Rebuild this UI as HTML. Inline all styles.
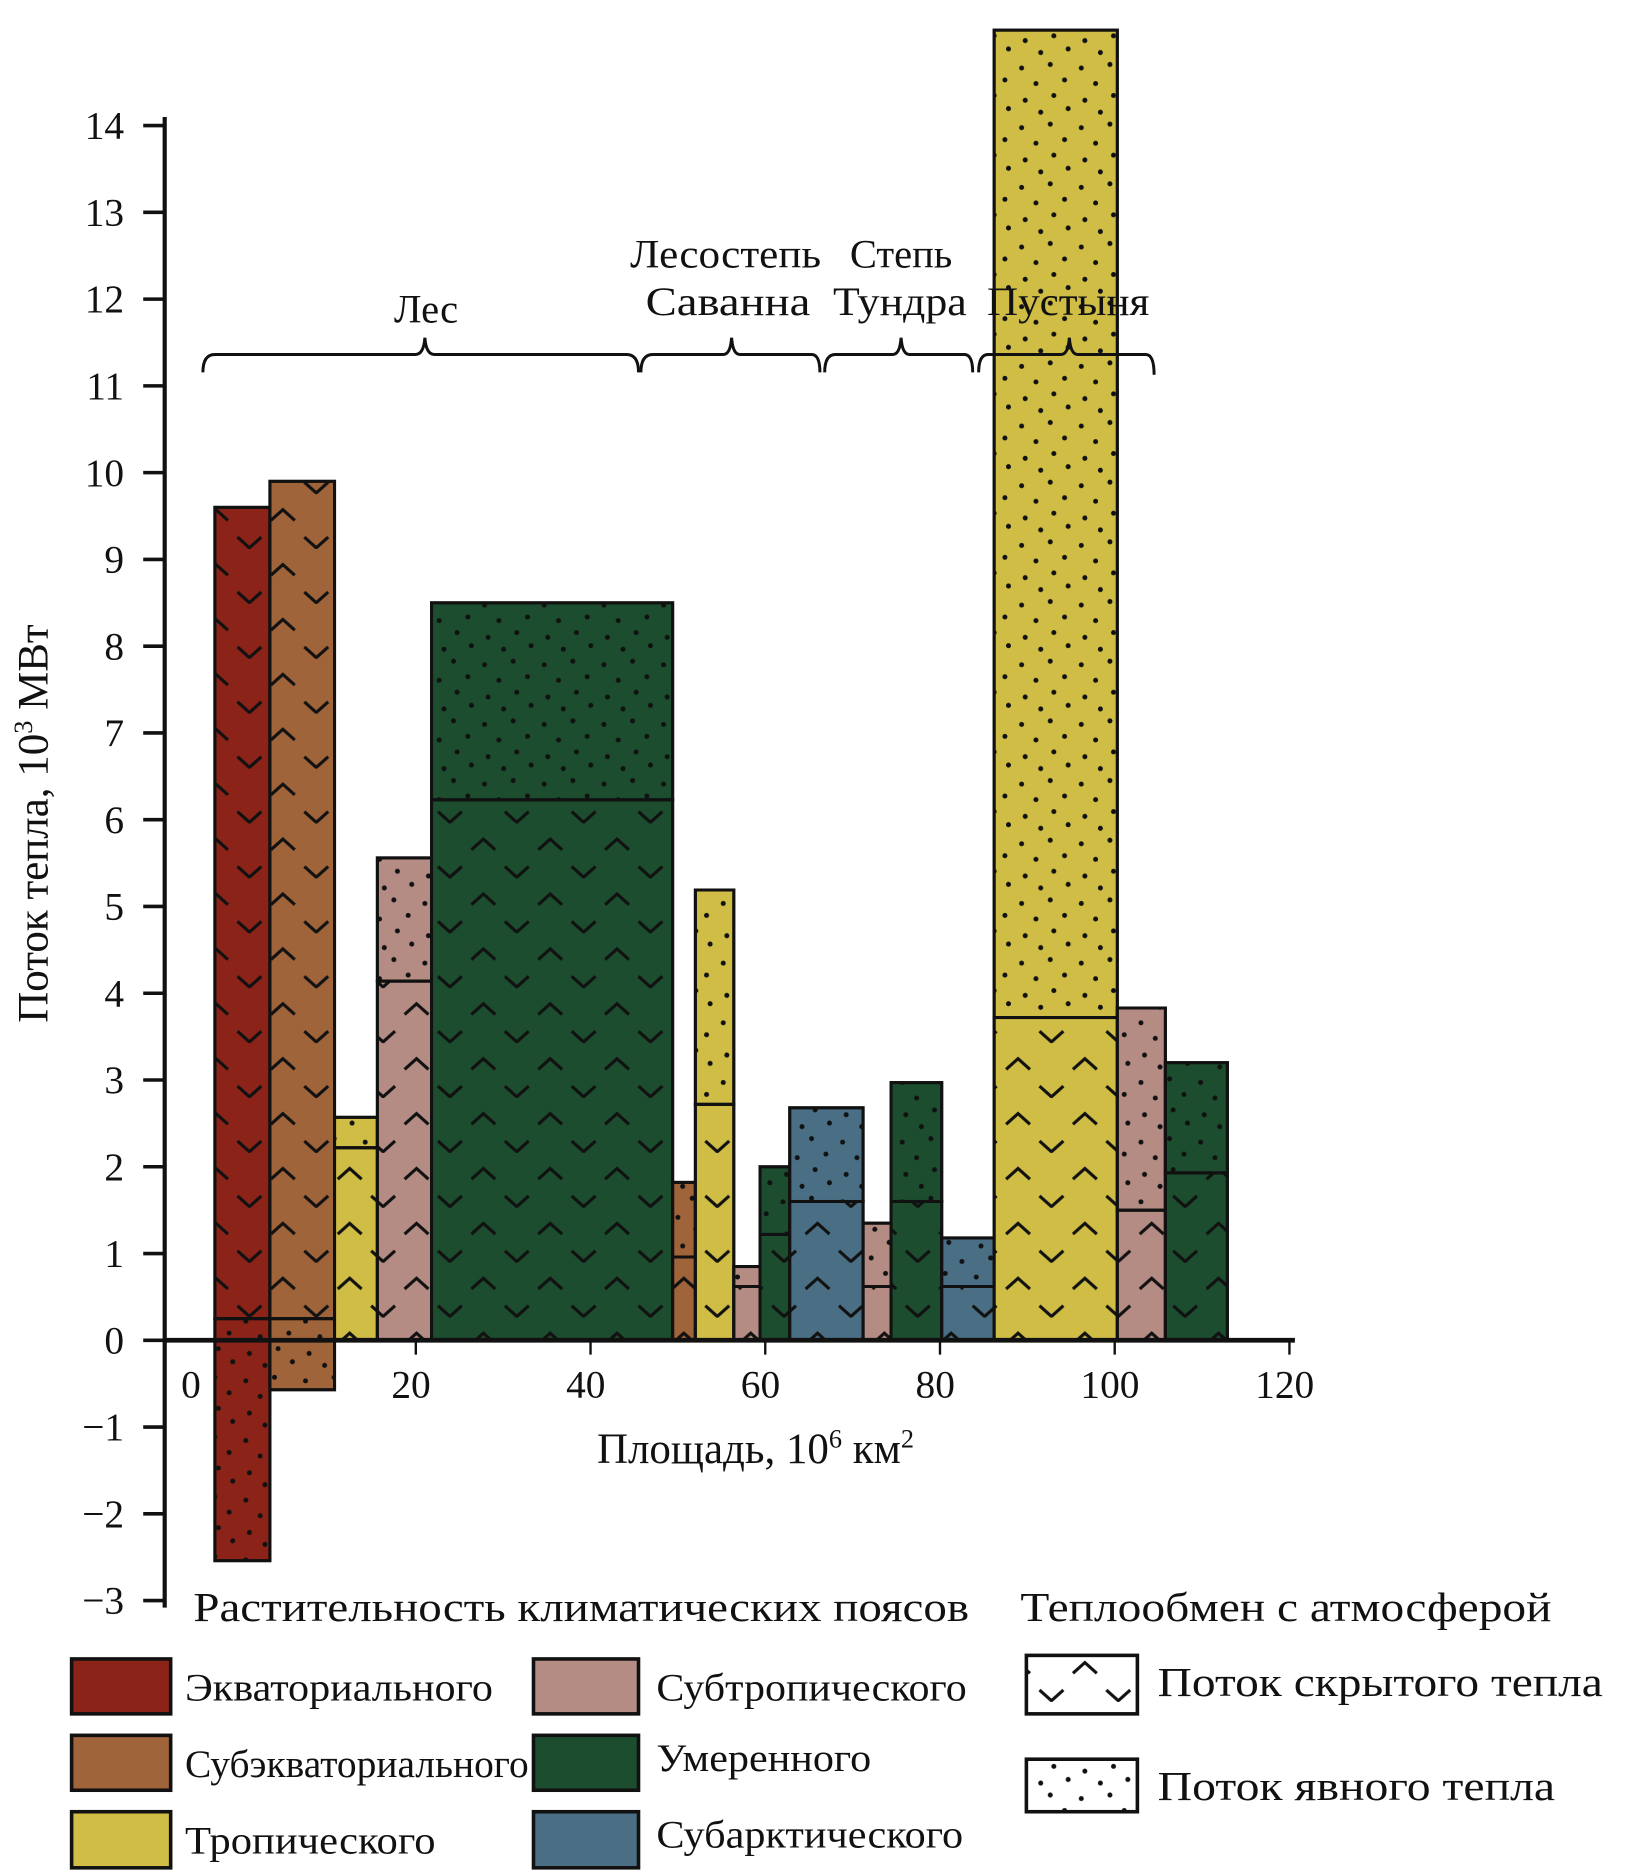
<!DOCTYPE html>
<html><head><meta charset="utf-8"><style>
html,body{margin:0;padding:0;background:#fff;}
svg{display:block;font-family:"Liberation Serif",serif;}
</style></head><body>
<svg id="chart" width="1647" height="1875" viewBox="0 0 1380 1571" xmlns="http://www.w3.org/2000/svg">
<defs>
<pattern id="latent" patternUnits="userSpaceOnUse" width="56" height="46" x="0" y="0">
<path d="M3 22 L13 13 L23 22 M31 36 L41 45 L51 36" fill="none" stroke="#111" stroke-width="2.6"/>
</pattern>
<pattern id="dots" patternUnits="userSpaceOnUse" width="50" height="50">
<g fill="#111"><circle cx="6" cy="7" r="2.1"/><circle cx="30" cy="4" r="2.1"/><circle cx="18" cy="20" r="2.1"/><circle cx="42" cy="17" r="2.1"/><circle cx="9" cy="34" r="2.1"/><circle cx="33" cy="30" r="2.1"/><circle cx="22" cy="44" r="2.1"/><circle cx="45" cy="41" r="2.1"/></g>
</pattern>
</defs>
<g id="plot"></g>
<g id="axes"></g>
<g fill="none" stroke="#111" stroke-width="2.5">
<path d="M170 312 Q170 297 180 297 L348 297 Q355 297 356 283 Q357 297 364 297 L525 297 Q535 297 535 312"/>
<path d="M537 312 Q537 297 547 297 L606 297 Q612 297 613 283 Q614 297 620 297 L680 297 Q687 297 687 312"/>
<path d="M691 312 Q691 297 700 297 L748 297 Q754 297 755 283 Q756 297 762 297 L808 297 Q815 297 815 312"/>
<path d="M820 312 Q820 297 828 297 L889 297 Q895 297 896 283 Q897 297 903 297 L960 297 Q967 297 967 314"/>
</g>
<g font-size="34" fill="#111" text-anchor="middle">
<text x="357" y="270">Лес</text>
<text x="608" y="224" textLength="160" lengthAdjust="spacingAndGlyphs">Лесостепь</text>
<text x="755" y="224">Степь</text>
<text x="610" y="264" textLength="138" lengthAdjust="spacingAndGlyphs">Саванна</text>
<text x="754" y="264" textLength="112" lengthAdjust="spacingAndGlyphs">Тундра</text>
<text x="895" y="264" textLength="136" lengthAdjust="spacingAndGlyphs">Пустыня</text>
<text transform="translate(40,690) rotate(-90)" font-size="36">Поток тепла, 10<tspan font-size="22" dy="-13">3</tspan><tspan dy="13"> МВт</tspan></text>
<text x="633" y="1226" font-size="36">Площадь, 10<tspan font-size="22" dy="-13">6</tspan><tspan dy="13"> км</tspan><tspan font-size="22" dy="-13">2</tspan></text>
</g>
<g font-size="33" fill="#111">
<text x="162" y="1358" font-size="35" textLength="650" lengthAdjust="spacingAndGlyphs">Растительность климатических поясов</text>
<text x="855" y="1358" font-size="35" textLength="445" lengthAdjust="spacingAndGlyphs">Теплообмен с атмосферой</text>
<g stroke="#111" stroke-width="3">
<rect x="60" y="1390" width="83" height="46" fill="#8b2318"/>
<rect x="60" y="1454" width="83" height="46" fill="#a0643a"/>
<rect x="60" y="1518" width="83" height="47" fill="#cfbd45"/>
<rect x="447" y="1390" width="88" height="46" fill="#b48c84"/>
<rect x="447" y="1454" width="88" height="46" fill="#1b4d2e"/>
<rect x="447" y="1518" width="88" height="47" fill="#4a6f85"/>
<rect x="860" y="1387" width="93" height="49" fill="url(#latent)"/>
<rect x="860" y="1474" width="93" height="44" fill="url(#dots)"/>
</g>
<text x="155" y="1425" textLength="258" lengthAdjust="spacingAndGlyphs">Экваториального</text>
<text x="155" y="1489" textLength="288" lengthAdjust="spacingAndGlyphs">Субэкваториального</text>
<text x="155" y="1553" textLength="210" lengthAdjust="spacingAndGlyphs">Тропического</text>
<text x="550" y="1425" textLength="260" lengthAdjust="spacingAndGlyphs">Субтропического</text>
<text x="550" y="1484" textLength="180" lengthAdjust="spacingAndGlyphs">Умеренного</text>
<text x="550" y="1548" textLength="257" lengthAdjust="spacingAndGlyphs">Субарктического</text>
<text x="970" y="1421" font-size="35" textLength="373" lengthAdjust="spacingAndGlyphs">Поток скрытого тепла</text>
<text x="970" y="1508" font-size="35" textLength="333" lengthAdjust="spacingAndGlyphs">Поток явного тепла</text>
</g>
</svg>
<script>
const belts = ["eq","subeq","trop","subtrop","temp","subeq","trop","subtrop","temp","subarc","subtrop","temp","subarc","trop","subtrop","temp"];
const areas = [6.3,7.4,4.9,6.2,27.6,2.6,4.4,3.0,3.4,8.4,3.2,5.8,6.0,14.1,5.5,7.1];
const totals = [9.6,9.9,2.57,5.56,8.5,1.82,5.19,0.85,2.0,2.68,1.35,2.97,1.18,15.1,3.83,3.2];
const latentTops = [9.6,9.9,2.22,4.14,6.23,0.96,2.72,0.62,1.22,1.6,0.62,1.6,0.62,3.72,1.5,1.93];
const latentBases = [0.25,0.25,0,0,0,0,0,0,0,0,0,0,0,0,0,0];
const negSensible = [-2.54,-0.57,0,0,0,0,0,0,0,0,0,0,0,0,0,0];
const xStart = -3.0;
const xTicks = [0,20,40,60,80,100,120];
const yTicks = [-3,-2,-1,0,1,2,3,4,5,6,7,8,9,10,11,12,13,14];
const colors = {eq:"#8b2318",subeq:"#a0643a",trop:"#cfbd45",subtrop:"#b48c84",temp:"#1b4d2e",subarc:"#4a6f85"};
const NS="http://www.w3.org/2000/svg";
const X=v=>202+7.32*v;
const Y=v=>1123-72.7*v;
const plot=document.getElementById('plot'), axes=document.getElementById('axes');
function mk(tag,a,p){const e=document.createElementNS(NS,tag);for(const k in a)e.setAttribute(k,a[k]);(p||plot).appendChild(e);return e;}
function box(x0,x1,y0,y1,fill){
  const top=Math.max(y0,y1),bot=Math.min(y0,y1);
  return mk('rect',{x:X(x0),y:Y(top),width:X(x1)-X(x0),height:Y(bot)-Y(top),fill:fill,stroke:'#111','stroke-width':2.5});
}
let cur=xStart;
for(let i=0;i<areas.length;i++){
  const x0=cur,x1=cur+areas[i];cur=x1;
  const c=colors[belts[i]];
  if(negSensible[i]<0){
    const a=box(x0,x1,negSensible[i],latentBases[i],c);
    
    
    const b=box(x0,x1,negSensible[i],latentBases[i],'url(#dots)');
    
    
  }
  const l=box(x0,x1,latentBases[i],latentTops[i],c);
  
  
  const lp=box(x0,x1,latentBases[i],latentTops[i],'url(#latent)');
  
  
  if(totals[i]>latentTops[i]){
    const s=box(x0,x1,latentTops[i],totals[i],c);
    
    
    const sp=box(x0,x1,latentTops[i],totals[i],'url(#dots)');
    
    
  }
}
const xa=mk('line',{x1:138,y1:Y(0),x2:1085,y2:Y(0),stroke:'#111','stroke-width':4},axes);


const ya=mk('line',{x1:138,y1:98,x2:138,y2:1347,stroke:'#111','stroke-width':3.5},axes);


yTicks.forEach(v=>{
  const t=mk('line',{x1:120,y1:Y(v),x2:138,y2:Y(v),stroke:'#111','stroke-width':3},axes);
  
  
  const lb=mk('text',{x:104,y:Y(v)+11,'font-size':33,'text-anchor':'end',fill:'#111'},axes);
  lb.textContent=v<0?'\u2212'+(-v):String(v);
  
  
});
xTicks.forEach(v=>{
  if(v>0){
    const t=mk('line',{x1:X(v),y1:Y(0),x2:X(v),y2:Y(0)+12,stroke:'#111','stroke-width':2},axes);
    
    
  }
  const lb=mk('text',{x:v===0?160:X(v)-4,y:1171,'font-size':33,'text-anchor':'middle',fill:'#111'},axes);
  lb.textContent=String(v);
  
  
});
</script>
</svg>
</body></html>
